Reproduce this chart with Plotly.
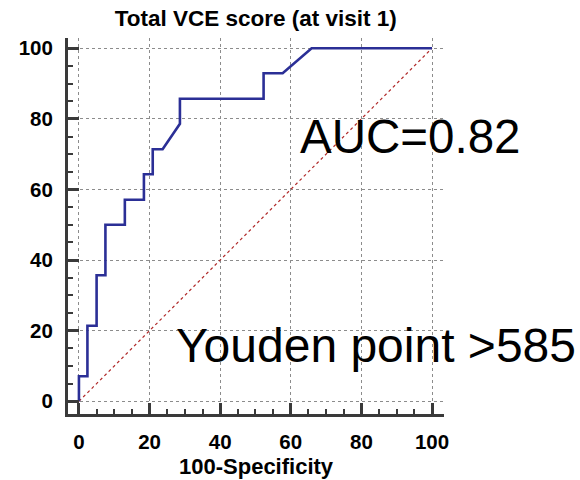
import plotly.graph_objects as go

# ROC curve points (100-Specificity, Sensitivity)
fpr = [0, 0, 2.4, 2.4, 5.0, 5.0, 7.5, 7.5, 13.0, 13.0, 18.4, 18.4, 20.9, 20.9,
       23.7, 28.6, 28.6, 52.3, 52.3, 57.7, 65.9, 100]
tpr = [0, 7.1, 7.1, 21.4, 21.4, 35.7, 35.7, 50.0, 50.0, 57.1, 57.1, 64.3, 64.3,
       71.4, 71.4, 78.6, 85.7, 85.7, 92.9, 92.9, 100, 100]
ref_x = [0, 100]
ref_y = [0, 100]
tick_vals = [0, 20, 40, 60, 80, 100]
title_text = "Total VCE score (at visit 1)"
x_title = "100-Specificity"
auc_text = "AUC=0.82"
youden_text = "Youden point >585"

FONT = "Liberation Sans, Arial, sans-serif"
AX = "#3a3a3a"

fig = go.Figure()
fig.add_trace(go.Scatter(x=ref_x, y=ref_y, mode="lines",
                         line=dict(color="#b02828", width=1.2, dash="dot"),
                         showlegend=False, hoverinfo="skip"))
fig.add_trace(go.Scatter(x=fpr, y=tpr, mode="lines",
                         line=dict(color="#2b2f96", width=2.6),
                         showlegend=False))

axis_common = dict(
    tickvals=tick_vals,
    showline=True, linecolor=AX, linewidth=3, mirror=False,
    ticks="inside", ticklen=11, tickwidth=3, tickcolor=AX,
    minor=dict(dtick=5, ticks="inside", ticklen=5, tickwidth=2,
               tickcolor=AX, showgrid=False),
    showgrid=True, gridcolor="#8c8c8c", gridwidth=1, griddash="dot",
    zeroline=False, automargin=False,
    tickfont=dict(family=FONT, size=20.5, color="black", weight="bold"),
    fixedrange=True,
)

fig.update_xaxes(range=[-3.1, 103.4], ticklabelstandoff=7, **axis_common)
fig.update_yaxes(range=[-3.6, 102.9], ticklabelstandoff=8, **axis_common)

fig.add_annotation(x=0.5, y=-0.139, xref="paper", yref="paper", text=x_title,
                   showarrow=False, xanchor="center", yanchor="middle",
                   font=dict(family=FONT, size=22, color="black", weight="bold"))
fig.add_annotation(x=62.0, y=75.1, xref="x", yref="y", text=auc_text,
                   showarrow=False, xanchor="left", yanchor="middle",
                   font=dict(family=FONT, size=47.5, color="black"))
fig.add_annotation(x=26.8, y=15.9, xref="x", yref="y", text=youden_text,
                   showarrow=False, xanchor="left", yanchor="middle",
                   font=dict(family=FONT, size=48, color="black"))

fig.update_layout(
    width=580, height=480,
    margin=dict(l=68, r=136, t=38, b=66),
    paper_bgcolor="white", plot_bgcolor="white",
    title=dict(text=title_text, x=0.441, xanchor="center",
               y=1 - 18.5 / 480, yanchor="middle", yref="container",
               font=dict(family=FONT, size=22.5, color="black", weight="bold")),
    showlegend=False,
)

fig.write_html("out.html")
